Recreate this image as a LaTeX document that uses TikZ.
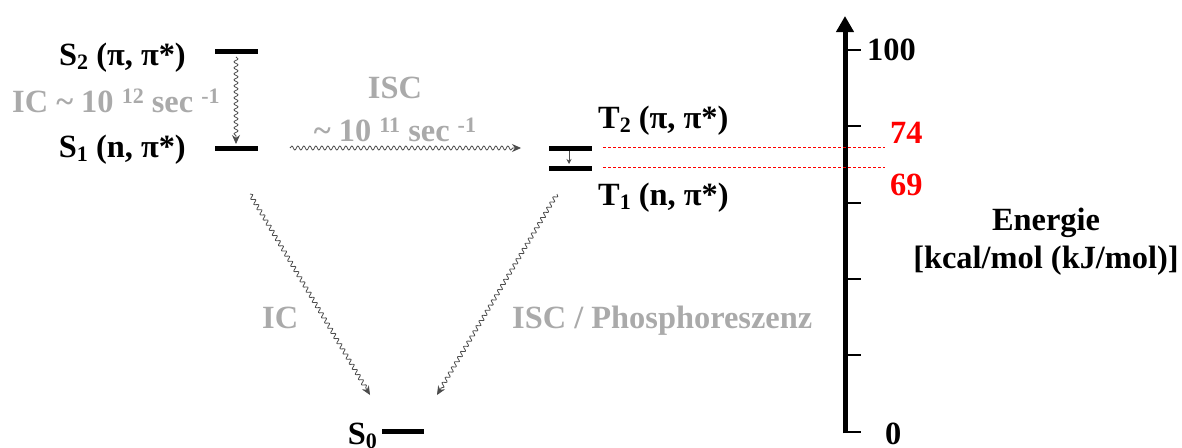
\documentclass[tikz,border=0pt]{standalone}
\usepackage{fontspec}
\setmainfont{Liberation Serif}[BoldFont={Liberation Serif Bold}]
\usetikzlibrary{arrows.meta,decorations.pathmorphing}
\definecolor{rategray}{RGB}{170,170,170}
\newcommand{\lsub}[1]{\raisebox{-0.3ex}{\fontsize{22}{22}\selectfont #1}}
\newcommand{\usup}[1]{\raisebox{0.6ex}{\fontsize{22}{22}\selectfont #1}}

\begin{document}
\begin{tikzpicture}[x=1pt,y=-1pt,>={Stealth[length=9pt,width=8pt]},
  every node/.style={font=\rmfamily\bfseries\fontsize{32.4}{36}\selectfont,inner sep=0pt},
  level/.style={line width=5pt},
  wavy/.style={->,black!70,line width=0.8pt,decorate,
    decoration={snake,amplitude=2pt,segment length=6pt,post length=8pt}},
  rate/.style={text=rategray},
  tick/.style={line width=2.5pt},
  elevel/.style={red,line width=1pt,dash pattern=on 3pt off 2pt}]
  \useasboundingbox (0,0) rectangle (1182,447);
  % energy levels
  \draw[level] (215,51) coordinate (s2a) -- (258,51) coordinate (s2b);
  \draw[level] (215,148) coordinate (s1a) -- (258,148) coordinate (s1b);
  \draw[level] (549,148) coordinate (t2a) -- (592,148) coordinate (t2b);
  \draw[level] (549,168) coordinate (t1a) -- (592,168) coordinate (t1b);
  \draw[level] (382,431) coordinate (s0a) -- (424,431) coordinate (s0b);
  % state labels
  \node[anchor=base east] (s2) at (186,65) {S\lsub{2} (π, π*)};
  \node[anchor=base east] (s1) at (186,157) {S\lsub{1} (n, π*)};
  \node[anchor=base west] (t2) at (598,128) {T\lsub{2} (π, π*)};
  \node[anchor=base west] (t1) at (598,205) {T\lsub{1} (n, π*)};
  \node[anchor=base east] (s0) at (377,444) {S\lsub{0}};
  % transitions
  \coordinate (icA) at (236,57);   \coordinate (icB) at (236,144);
  \coordinate (iscA) at (290,148); \coordinate (iscB) at (521,148);
  \coordinate (ttA) at (569,151);  \coordinate (ttB) at (569,164);
  \coordinate (icC) at (250,194);  \coordinate (icD) at (370,395);
  \coordinate (phA) at (557,194);  \coordinate (phD) at (437,395);
  \draw[wavy] (icA) -- (icB);
  \draw[wavy] (iscA) -- (iscB);
  \draw[->,black!70,line width=0.8pt,>={Stealth[length=5pt,width=5pt]}] (ttA) -- (ttB);
  \draw[wavy] (icC) -- (icD);
  \draw[wavy] (phA) -- (phD);
  \node[rate,anchor=base west] (icrate) at (12,112) {IC \textasciitilde{} 10 \usup{12} sec \usup{-1}};
  \node[rate,anchor=base] (isc) at (395,98) {ISC};
  \node[rate,anchor=base] (iscrate) at (395,141) {\textasciitilde{} 10 \usup{11} sec \usup{-1}};
  \node[rate,anchor=base west] (ic) at (262,328) {IC};
  \node[rate,anchor=base west] (phos) at (512,328) {ISC / Phosphoreszenz};
  % energy axis
  \draw[line width=5pt,-{Triangle[length=16pt,width=17pt]}] (845,433.25) -- (845,16);
  \foreach \y in {50,126,203,279,355,432}
    \draw[tick] (845,\y) -- (861,\y);
  \draw[elevel] (603,147) -- (885,147);
  \draw[elevel] (603,167) -- (885,167);
  \node[anchor=base west] (e100) at (867,60) {100};
  \node[anchor=base west,text=red] (e74) at (890,143) {74};
  \node[anchor=base west,text=red] (e69) at (890,195) {69};
  \node[anchor=base west] (e0) at (885,444) {0};
  \node[anchor=base] (energie) at (1046,230) {Energie};
  \node[anchor=base] (unit) at (1046,268) {[kcal/mol (kJ/mol)]};
\end{tikzpicture}
\end{document}
